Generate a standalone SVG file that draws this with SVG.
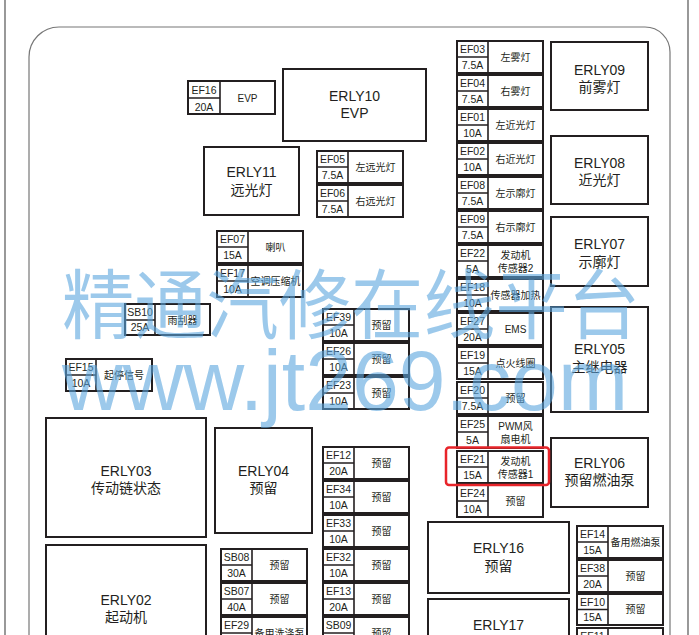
<svg xmlns="http://www.w3.org/2000/svg" width="699" height="635" viewBox="0 0 699 635">
<style>
.b{fill:#fff;stroke:#231f20;stroke-width:2}
.d{fill:none;stroke:#231f20;stroke-width:1.6}
.c{font-family:"Liberation Sans",Arial,sans-serif;font-size:10.5px;fill:#231f20;text-anchor:middle}
.z{font-family:"Liberation Sans","Noto Sans CJK SC",sans-serif;font-size:10px;fill:#231f20;text-anchor:middle}
.r{font-family:"Liberation Sans","Noto Sans CJK SC",sans-serif;font-size:14px;fill:#231f20;text-anchor:middle}
.wm{font-family:"Liberation Sans","Noto Sans CJK SC",sans-serif;fill:#5aa5de;fill-opacity:0.6}
</style>
<rect width="699" height="635" fill="#fff"/>
<g id="frame" fill="none">
<path d="M5 0V635M688 0V635" stroke="#555" stroke-width="1.2"/>
<path d="M29 635V57A30 30 0 0 1 59 27H645A25 25 0 0 1 670 52V635" stroke="#777" stroke-width="1.2"/>
</g>
<g id="connectors"/>

<!-- relays -->
<g id="ERLY10"><rect class="b" x="283" y="69" width="143" height="72"/><text class="r" x="354.5" y="101">ERLY10</text><text class="r" x="354.5" y="118">EVP</text></g>
<g id="ERLY11"><rect class="b" x="204" y="147" width="95" height="68"/><text class="r" x="251.5" y="177">ERLY11</text><text class="r" x="251.5" y="195">远光灯</text></g>
<g id="ERLY09"><rect class="b" x="551" y="42" width="97" height="68"/><text class="r" x="599.5" y="75">ERLY09</text><text class="r" x="599.5" y="92">前雾灯</text></g>
<g id="ERLY08"><rect class="b" x="551" y="136" width="97" height="68"/><text class="r" x="599.5" y="168">ERLY08</text><text class="r" x="599.5" y="185">近光灯</text></g>
<g id="ERLY07"><rect class="b" x="551" y="217" width="97" height="69"/><text class="r" x="599.5" y="249">ERLY07</text><text class="r" x="599.5" y="267">示廓灯</text></g>
<g id="ERLY05"><rect class="b" x="551" y="307" width="97" height="105"/><text class="r" x="599.5" y="354">ERLY05</text><text class="r" x="599.5" y="372">主继电器</text></g>
<g id="ERLY06"><rect class="b" x="551" y="438" width="97" height="69"/><text class="r" x="599.5" y="468">ERLY06</text><text class="r" x="599.5" y="485">预留燃油泵</text></g>
<g id="ERLY04"><rect class="b" x="215" y="428" width="97" height="105"/><text class="r" x="263.5" y="476">ERLY04</text><text class="r" x="263.5" y="493">预留</text></g>
<g id="ERLY03"><rect class="b" x="46" y="418" width="160" height="119"/><text class="r" x="126" y="476">ERLY03</text><text class="r" x="126" y="493">传动链状态</text></g>
<g id="ERLY02"><rect class="b" x="46" y="545" width="160" height="100"/><text class="r" x="126" y="605">ERLY02</text><text class="r" x="126" y="622">起动机</text></g>
<g id="ERLY16"><rect class="b" x="428" y="522" width="141" height="71"/><text class="r" x="498.5" y="553">ERLY16</text><text class="r" x="498.5" y="571">预留</text></g>
<g id="ERLY17"><rect class="b" x="428" y="599" width="141" height="50"/><text class="r" x="498.5" y="630">ERLY17</text></g>

<!-- top-left fuses -->
<g id="EF16"><rect class="b" x="188" y="81" width="87" height="33"/><path class="d" d="M220 81V114M188 98H220"/><text class="c" x="204" y="94">EF16</text><text class="c" x="204" y="111">20A</text><text class="z" x="247.5" y="101.5">EVP</text></g>
<g id="EF05"><rect class="b" x="317" y="151" width="86" height="32"/><path class="d" d="M348 151V183M317 167H348"/><text class="c" x="332.5" y="163">EF05</text><text class="c" x="332.5" y="179">7.5A</text><text class="z" x="375.5" y="171">左远光灯</text></g>
<g id="EF06"><rect class="b" x="317" y="185" width="86" height="32"/><path class="d" d="M348 185V217M317 201H348"/><text class="c" x="332.5" y="197">EF06</text><text class="c" x="332.5" y="213">7.5A</text><text class="z" x="375.5" y="205">右远光灯</text></g>
<g id="EF07"><rect class="b" x="217" y="231" width="86" height="32"/><path class="d" d="M248 231V263M217 247H248"/><text class="c" x="232.5" y="243">EF07</text><text class="c" x="232.5" y="259">15A</text><text class="z" x="275.5" y="251">喇叭</text></g>
<g id="EF17"><rect class="b" x="217" y="265" width="86" height="32"/><path class="d" d="M248 265V297M217 281H248"/><text class="c" x="232.5" y="277">EF17</text><text class="c" x="232.5" y="293">10A</text><text class="z" x="275.5" y="285">空调压缩机</text></g>
<g id="SB10"><rect class="b" x="125" y="304" width="85" height="31"/><path class="d" d="M155 304V335M125 320H155"/><text class="c" x="140" y="316">SB10</text><text class="c" x="140" y="331">25A</text><text class="z" x="182.5" y="323.5">雨刮器</text></g>
<g id="EF15"><rect class="b" x="66" y="359" width="86" height="32"/><path class="d" d="M96 359V391M66 375H96"/><text class="c" x="81" y="371">EF15</text><text class="c" x="81" y="387">10A</text><text class="z" x="124" y="379">起停信号</text></g>

<!-- middle column -->
<g id="EF39"><rect class="b" x="323" y="309" width="86" height="32"/><path class="d" d="M354 309V341M323 325H354"/><text class="c" x="338.5" y="321">EF39</text><text class="c" x="338.5" y="337">10A</text><text class="z" x="381.5" y="329">预留</text></g>
<g id="EF26"><rect class="b" x="323" y="343" width="86" height="32"/><path class="d" d="M354 343V375M323 359H354"/><text class="c" x="338.5" y="355">EF26</text><text class="c" x="338.5" y="371">10A</text><text class="z" x="381.5" y="363">预留</text></g>
<g id="EF23"><rect class="b" x="323" y="377" width="86" height="32"/><path class="d" d="M354 377V409M323 393H354"/><text class="c" x="338.5" y="389">EF23</text><text class="c" x="338.5" y="405">10A</text><text class="z" x="381.5" y="397">预留</text></g>
<g id="EF12"><rect class="b" x="323" y="447" width="86" height="32"/><path class="d" d="M354 447V479M323 463H354"/><text class="c" x="338.5" y="459">EF12</text><text class="c" x="338.5" y="475">20A</text><text class="z" x="381.5" y="467">预留</text></g>
<g id="EF34"><rect class="b" x="323" y="481" width="86" height="32"/><path class="d" d="M354 481V513M323 497H354"/><text class="c" x="338.5" y="493">EF34</text><text class="c" x="338.5" y="509">10A</text><text class="z" x="381.5" y="501">预留</text></g>
<g id="EF33"><rect class="b" x="323" y="515" width="86" height="32"/><path class="d" d="M354 515V547M323 531H354"/><text class="c" x="338.5" y="527">EF33</text><text class="c" x="338.5" y="543">10A</text><text class="z" x="381.5" y="535">预留</text></g>
<g id="EF32"><rect class="b" x="323" y="549" width="86" height="32"/><path class="d" d="M354 549V581M323 565H354"/><text class="c" x="338.5" y="561">EF32</text><text class="c" x="338.5" y="577">10A</text><text class="z" x="381.5" y="569">预留</text></g>
<g id="EF13"><rect class="b" x="323" y="583" width="86" height="32"/><path class="d" d="M354 583V615M323 599H354"/><text class="c" x="338.5" y="595">EF13</text><text class="c" x="338.5" y="611">20A</text><text class="z" x="381.5" y="603">预留</text></g>
<g id="SB09"><rect class="b" x="323" y="617" width="86" height="32"/><path class="d" d="M354 617V649M323 633H354"/><text class="c" x="338.5" y="629">SB09</text><text class="z" x="381.5" y="637">预留</text></g>

<!-- SB column -->
<g id="SB08"><rect class="b" x="221" y="549" width="86" height="32"/><path class="d" d="M252 549V581M221 565H252"/><text class="c" x="236.5" y="561">SB08</text><text class="c" x="236.5" y="577">30A</text><text class="z" x="279.5" y="569">预留</text></g>
<g id="SB07"><rect class="b" x="221" y="583" width="86" height="32"/><path class="d" d="M252 583V615M221 599H252"/><text class="c" x="236.5" y="595">SB07</text><text class="c" x="236.5" y="611">40A</text><text class="z" x="279.5" y="603">预留</text></g>
<g id="EF29"><rect class="b" x="221" y="617" width="86" height="32"/><path class="d" d="M252 617V649M221 633H252"/><text class="c" x="236.5" y="629">EF29</text><text class="z" x="279.5" y="637">备用洗涤泵</text></g>

<!-- right fuse column -->
<g id="EF03"><rect class="b" x="457" y="41" width="86" height="32"/><path class="d" d="M488 41V73M457 57H488"/><text class="c" x="472.5" y="53">EF03</text><text class="c" x="472.5" y="69">7.5A</text><text class="z" x="515.5" y="61">左雾灯</text></g>
<g id="EF04"><rect class="b" x="457" y="75" width="86" height="32"/><path class="d" d="M488 75V107M457 91H488"/><text class="c" x="472.5" y="87">EF04</text><text class="c" x="472.5" y="103">7.5A</text><text class="z" x="515.5" y="95">右雾灯</text></g>
<g id="EF01"><rect class="b" x="457" y="109" width="86" height="32"/><path class="d" d="M488 109V141M457 125H488"/><text class="c" x="472.5" y="121">EF01</text><text class="c" x="472.5" y="137">10A</text><text class="z" x="515.5" y="129">左近光灯</text></g>
<g id="EF02"><rect class="b" x="457" y="143" width="86" height="32"/><path class="d" d="M488 143V175M457 159H488"/><text class="c" x="472.5" y="155">EF02</text><text class="c" x="472.5" y="171">10A</text><text class="z" x="515.5" y="163">右近光灯</text></g>
<g id="EF08"><rect class="b" x="457" y="177" width="86" height="32"/><path class="d" d="M488 177V209M457 193H488"/><text class="c" x="472.5" y="189">EF08</text><text class="c" x="472.5" y="205">7.5A</text><text class="z" x="515.5" y="197">左示廓灯</text></g>
<g id="EF09"><rect class="b" x="457" y="211" width="86" height="32"/><path class="d" d="M488 211V243M457 227H488"/><text class="c" x="472.5" y="223">EF09</text><text class="c" x="472.5" y="239">7.5A</text><text class="z" x="515.5" y="231">右示廓灯</text></g>
<g id="EF22"><rect class="b" x="457" y="245" width="86" height="32"/><path class="d" d="M488 245V277M457 261H488"/><text class="c" x="472.5" y="257">EF22</text><text class="c" x="472.5" y="273">5A</text><text class="z" x="515.5" y="259">发动机</text><text class="z" x="515.5" y="272">传感器2</text></g>
<g id="EF18"><rect class="b" x="457" y="279" width="86" height="32"/><path class="d" d="M488 279V311M457 295H488"/><text class="c" x="472.5" y="291">EF18</text><text class="c" x="472.5" y="307">10A</text><text class="z" x="515.5" y="299">传感器加热</text></g>
<g id="EF27"><rect class="b" x="457" y="313" width="86" height="32"/><path class="d" d="M488 313V345M457 329H488"/><text class="c" x="472.5" y="325">EF27</text><text class="c" x="472.5" y="341">20A</text><text class="z" x="515.5" y="332.5">EMS</text></g>
<g id="EF19"><rect class="b" x="457" y="347" width="86" height="32"/><path class="d" d="M488 347V379M457 363H488"/><text class="c" x="472.5" y="359">EF19</text><text class="c" x="472.5" y="375">15A</text><text class="z" x="515.5" y="367">点火线圈</text></g>
<g id="EF20"><rect class="b" x="457" y="382" width="86" height="32"/><path class="d" d="M488 382V414M457 398H488"/><text class="c" x="472.5" y="394">EF20</text><text class="c" x="472.5" y="410">7.5A</text><text class="z" x="515.5" y="402">预留</text></g>
<g id="EF25"><rect class="b" x="457" y="416" width="86" height="32"/><path class="d" d="M488 416V448M457 432H488"/><text class="c" x="472.5" y="428">EF25</text><text class="c" x="472.5" y="444">5A</text><text class="z" x="515.5" y="430">PWM风</text><text class="z" x="515.5" y="443">扇电机</text></g>
<g id="EF21"><rect class="b" x="457" y="451" width="86" height="32"/><path class="d" d="M488 451V483M457 467H488"/><text class="c" x="472.5" y="463">EF21</text><text class="c" x="472.5" y="479">15A</text><text class="z" x="515.5" y="465">发动机</text><text class="z" x="515.5" y="478">传感器1</text></g>
<g id="EF24"><rect class="b" x="457" y="485" width="86" height="32"/><path class="d" d="M488 485V517M457 501H488"/><text class="c" x="472.5" y="497">EF24</text><text class="c" x="472.5" y="513">10A</text><text class="z" x="515.5" y="505">预留</text></g>
<g id="highlight"><rect x="446" y="447.5" width="103" height="37.5" rx="3" fill="none" stroke="#e8242a" stroke-width="2.5"/></g>

<!-- bottom right -->
<g id="EF14"><rect class="b" x="577" y="526" width="86" height="32"/><path class="d" d="M608 526V558M577 542H608"/><text class="c" x="592.5" y="538">EF14</text><text class="c" x="592.5" y="554">15A</text><text class="z" x="635.5" y="546">备用燃油泵</text></g>
<g id="EF38"><rect class="b" x="577" y="560" width="86" height="32"/><path class="d" d="M608 560V592M577 576H608"/><text class="c" x="592.5" y="572">EF38</text><text class="c" x="592.5" y="588">20A</text><text class="z" x="635.5" y="580">预留</text></g>
<g id="EF10"><rect class="b" x="577" y="594" width="86" height="31"/><path class="d" d="M608 594V625M577 609.5H608"/><text class="c" x="592.5" y="606">EF10</text><text class="c" x="592.5" y="621">15A</text><text class="z" x="635.5" y="613">预留</text></g>
<g id="EF11"><rect class="b" x="577" y="628" width="86" height="32"/><path class="d" d="M608 628V660"/><text class="c" x="592.5" y="640">EF11</text></g>

<g id="watermark">
<text class="wm" x="62" y="333" font-size="76" textLength="578" lengthAdjust="spacingAndGlyphs">精通汽修在线平台</text>
<text class="wm" x="62" y="410" font-size="86" textLength="566" lengthAdjust="spacingAndGlyphs">www.jt269.com</text>
</g>
</svg>
